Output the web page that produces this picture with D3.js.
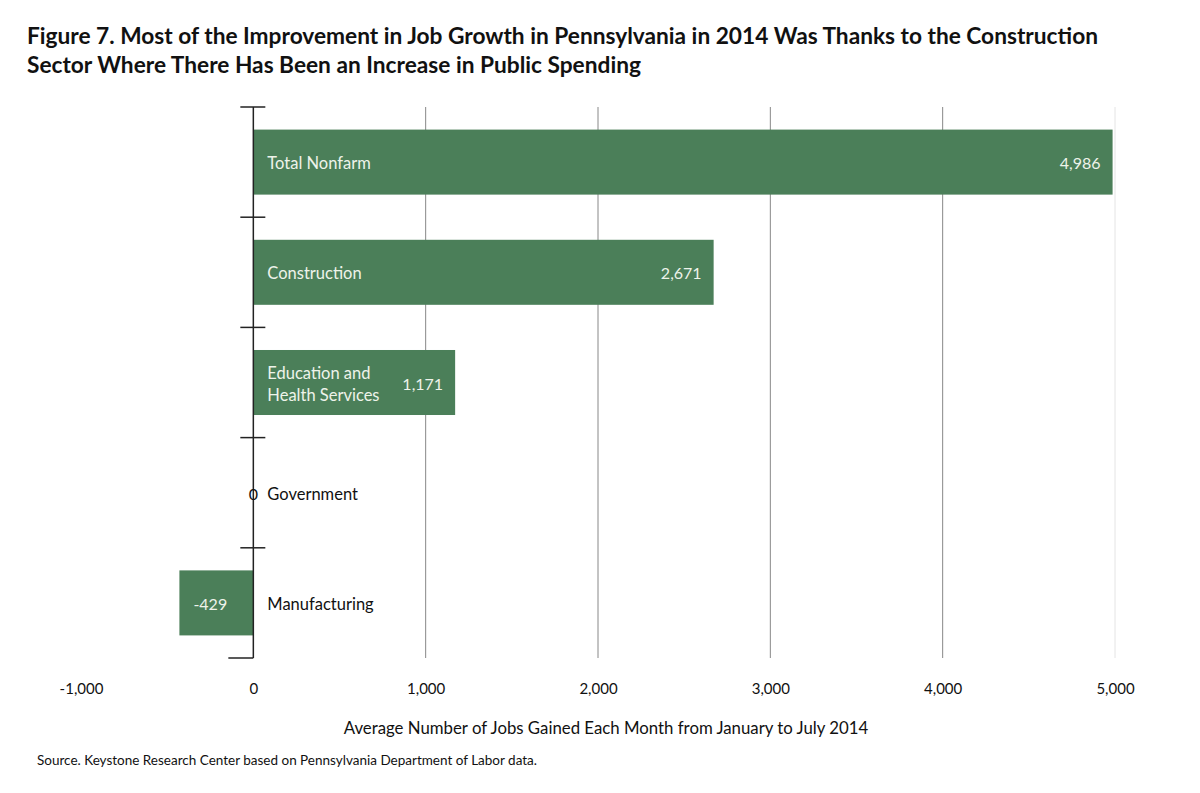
<!DOCTYPE html>
<html>
<head>
<meta charset="utf-8">
<script src="https://cdn.jsdelivr.net/npm/d3@7"></script>
<style>
  body { margin: 0; background: #fff; }
  svg { display: block; font-family: "Lato", "Open Sans", sans-serif; }
</style>
</head>
<body>
<svg id="chart" width="1200" height="793"></svg>
<script>
const categories = ["Total Nonfarm", "Construction", "Education and\nHealth Services", "Government", "Manufacturing"];
const values = [4986, 2671, 1171, 0, -429];
const xTicks = [-1000, 0, 1000, 2000, 3000, 4000, 5000];

const titleLines = [
  "Figure 7. Most of the Improvement in Job Growth in Pennsylvania in 2014 Was Thanks to the Construction",
  "Sector Where There Has Been an Increase in Public Spending"
];
const xTitle = "Average Number of Jobs Gained Each Month from January to July 2014";
const source = "Source. Keystone Research Center based on Pennsylvania Department of Labor data.";

const green = "#4b7f59";
const data = categories.map((c, i) => ({ cat: c, value: values[i] }));

const svg = d3.select("#chart");

const x = d3.scaleLinear().domain([-1000, 5000]).range([81, 1115]);
const y = d3.scaleBand().domain(categories).range([107, 658]).paddingInner(0.41).paddingOuter(0.205);
const step = y.step();
const fmt = v => d3.format(",")(v).replace("\u2212", "-");

// title
svg.append("g").selectAll("text").data(titleLines).join("text")
  .attr("x", 27).attr("y", (d, i) => 44 + i * 29)
  .attr("font-size", 22.7).attr("font-weight", "bold").attr("fill", "#111")
  .text(d => d);

// gridlines
svg.append("g").selectAll("line").data(xTicks.filter(d => d > 0)).join("line")
  .attr("x1", d => x(d)).attr("x2", d => x(d))
  .attr("y1", 107).attr("y2", 658)
  .attr("stroke", d => d === 5000 ? "#e4e4e4" : "#888").attr("stroke-width", 1);

// bars
svg.append("g").selectAll("rect").data(data.filter(d => d.value !== 0)).join("rect")
  .attr("x", d => x(Math.min(0, d.value)))
  .attr("width", d => Math.abs(x(d.value) - x(0)))
  .attr("y", d => y(d.cat))
  .attr("height", y.bandwidth())
  .attr("fill", green);

// y axis line and ticks
const axisG = svg.append("g");
axisG.append("line").attr("x1", x(0)).attr("x2", x(0)).attr("y1", 107).attr("y2", 658)
  .attr("stroke", "#222").attr("stroke-width", 1.5);
const tickYs = d3.range(categories.length).map(i => 107 + i * step);
axisG.selectAll(".tk").data(tickYs).join("line").attr("class", "tk")
  .attr("x1", x(0) - 13).attr("x2", x(0) + 12)
  .attr("y1", d => d).attr("y2", d => d)
  .attr("stroke", "#222").attr("stroke-width", 1.5);
axisG.append("line").attr("x1", x(0) - 25).attr("x2", x(0)).attr("y1", 658).attr("y2", 658)
  .attr("stroke", "#222").attr("stroke-width", 1.5);

// category labels
const catG = svg.append("g");
data.forEach(d => {
  const lines = d.cat.split("\n");
  const cy = y(d.cat) + y.bandwidth() / 2;
  const t = catG.append("text")
    .attr("x", x(0) + 14)
    .attr("font-size", 16.5)
    .attr("fill", d.value > 0 ? "#eef3ea" : "#111");
  lines.forEach((l, i) => {
    t.append("tspan").attr("x", x(0) + 14)
      .attr("y", cy + 7 + (i - (lines.length - 1) / 2) * 22)
      .text(l);
  });
});

// value labels
svg.append("g").selectAll("text").data(data).join("text")
  .attr("x", d => d.value > 0 ? x(d.value) - 12 : d.value < 0 ? x(d.value) + 14 : x(0))
  .attr("y", d => y(d.cat) + y.bandwidth() / 2 + 7)
  .attr("text-anchor", d => d.value > 0 ? "end" : d.value < 0 ? "start" : "middle")
  .attr("font-size", 16)
  .attr("fill", d => d.value !== 0 ? "#eef3ea" : "#111")
  .text(d => fmt(d.value));

// x axis labels
const xAxis = svg.append("g").attr("transform", "translate(0,683)")
  .call(d3.axisBottom(x).tickValues(xTicks).tickSize(0).tickPadding(0).tickFormat(fmt));
xAxis.select(".domain").remove();
xAxis.selectAll("text").attr("font-size", 15).attr("font-family", "Lato, sans-serif").attr("fill", "#111");

svg.append("text").attr("x", 606).attr("y", 734).attr("text-anchor", "middle")
  .attr("font-size", 16.8).attr("fill", "#111").text(xTitle);

svg.append("text").attr("x", 37).attr("y", 765)
  .attr("font-size", 13.5).attr("fill", "#111").text(source);
</script>
</body>
</html>
